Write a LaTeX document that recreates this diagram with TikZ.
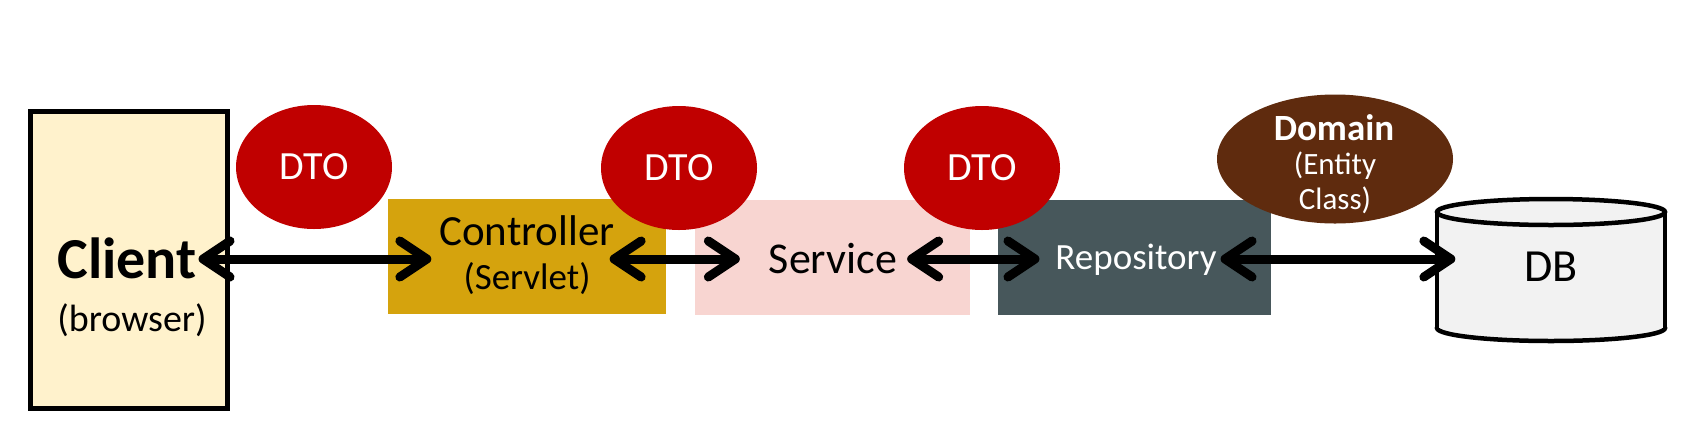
\documentclass[tikz,border=0pt]{standalone}
\usepackage{fontspec}
\setmainfont{Carlito}
\usetikzlibrary{arrows.meta,shapes.geometric}
\definecolor{clientfill}{HTML}{FFF2CC}
\definecolor{dtored}{HTML}{C00000}
\definecolor{ctrlgold}{HTML}{D5A30D}
\definecolor{svcpink}{HTML}{F8D5D1}
\definecolor{repogray}{HTML}{47575B}
\definecolor{domainbrown}{HTML}{5F2B0E}
\definecolor{dbgray}{HTML}{F2F2F2}
\newcommand\myfs[1]{\fontsize{#1}{#1}\selectfont}
\begin{document}
\begin{tikzpicture}[x=1pt,y=-1pt,
  lbl/.style={inner sep=0pt, outer sep=0pt},
  layerbox/.style={rectangle, draw=none, minimum width=#1, minimum height=115pt, inner sep=0pt},
  dtobubble/.style={ellipse, fill=dtored, text=white, minimum width=156pt, minimum height=124pt, inner sep=0pt, font=\myfs{40}},
  biarrow/.style={line width=9pt, {Straight Barb[length=27pt,width=36pt,round]}-{Straight Barb[length=27pt,width=36pt,round]}},
  dbline/.style={line width=4.5pt, draw=black}
]
\fill[white] (0,0) rectangle (1704,424);
\useasboundingbox (0,0) rectangle (1704,424);

% client
\node[rectangle, draw=black, line width=5pt, fill=clientfill, minimum width=197pt, minimum height=297pt, inner sep=0pt] (client) at (129,260) {};
\node[lbl, font=\bfseries\myfs{58}] (clientlbl) at (127,258) {Client};
\node[lbl, font=\myfs{38}] (browserlbl) at (132,320) {(browser)};

% layer boxes
\node[layerbox=278pt, fill=ctrlgold] (ctrl) at (527,256) {};
\node[lbl, font=\myfs{43}] (ctrllbl) at (527,231) {Controller};
\node[lbl, font=\myfs{37}] (servletlbl) at (527,279) {(Servlet)};

\node[layerbox=275pt, fill=svcpink] (svc) at (832.5,257) {};
\node[lbl, font=\myfs{44}] (svclbl) at (833,259) {Service};

\node[layerbox=273pt, fill=repogray] (repo) at (1134.5,257) {};
\node[lbl, font=\myfs{37}, text=white] (repolbl) at (1136,260) {Repository};

% DB cylinder
\path[fill=dbgray, dbline] (1551,328) ellipse [x radius=114pt, y radius=13pt];
\fill[dbgray] (1437,212) rectangle (1665,328);
\draw[dbline] (1437,212) -- (1437,328) (1665,212) -- (1665,328);
\path[fill=dbgray, dbline] (1551,212) ellipse [x radius=114pt, y radius=13pt];
\node[lbl, font=\myfs{46}] (dblbl) at (1551,267) {DB};

% DTO bubbles
\node[dtobubble] (dto1) at (314,167) {DTO};
\node[dtobubble] (dto2) at (679,168) {DTO};
\node[dtobubble] (dto3) at (982,168) {DTO};

% Domain bubble
\node[ellipse, fill=domainbrown, minimum width=236pt, minimum height=129pt, inner sep=0pt] (domain) at (1335,159) {};
\node[lbl, font=\bfseries\myfs{37}, text=white] (domainlbl) at (1334,128) {Domain};
\node[lbl, font=\myfs{31}, text=white] (entitylbl) at (1335,166) {(Entity};
\node[lbl, font=\myfs{31}, text=white] (classlbl) at (1335,200) {Class)};

% arrows
\draw[biarrow] ([xshift=2pt]clientlbl.east |- svclbl.west) -- ([xshift=-8pt]ctrllbl.west |- svclbl.west);
\draw[biarrow] ([xshift=-5pt]ctrllbl.east |- svclbl.west) -- ([xshift=-29pt]svclbl.west);
\draw[biarrow] ([xshift=10pt]svclbl.east) -- ([xshift=-16pt]repolbl.west |- svclbl.west);
\draw[biarrow] ([xshift=4pt]repolbl.east |- svclbl.west) -- ([xshift=-69pt]dblbl.west |- svclbl.west);
\end{tikzpicture}
\end{document}
